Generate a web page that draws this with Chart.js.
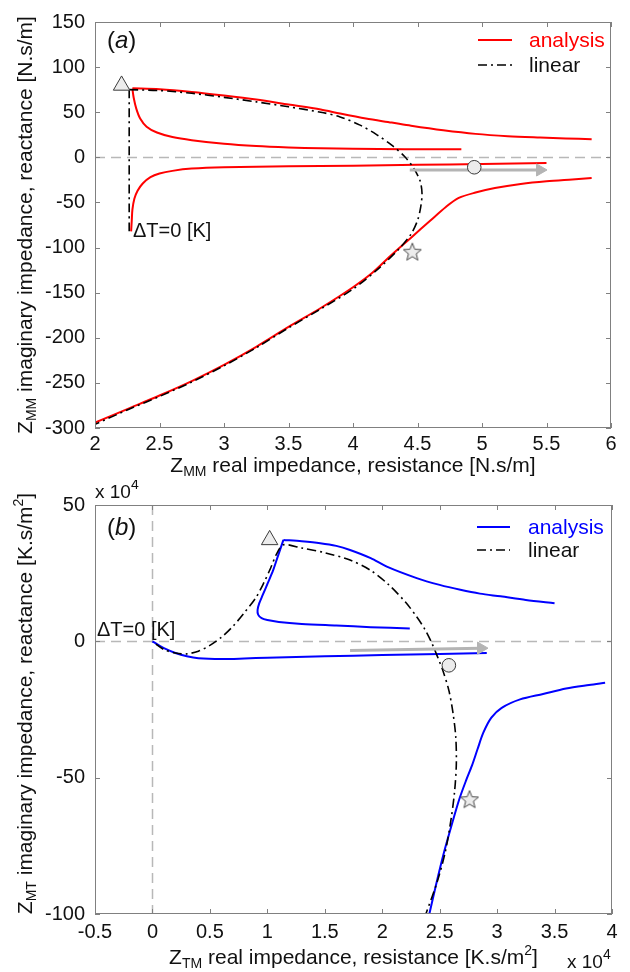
<!DOCTYPE html>
<html>
<head>
<meta charset="utf-8">
<script src="https://cdn.jsdelivr.net/npm/chart.js@4.4.1/dist/chart.umd.min.js"></script>
<style>
  html, body { margin: 0; padding: 0; background: #ffffff; }
  #wrap { position: relative; width: 630px; height: 972px; overflow: hidden; }
  #wrap canvas { position: absolute; left: 0; }
  #cA { top: 0; }
  #cB { top: 480px; }
</style>
</head>
<body>
<div id="wrap">
  <canvas id="cA" width="630" height="480"></canvas>
  <canvas id="cB" width="630" height="492"></canvas>
</div>
<script>
// ---------------- panel (a): Z_MM, resistance vs reactance [N.s/m] ----------------
const aTickX = ['2', '2.5', '3', '3.5', '4', '4.5', '5', '5.5', '6'];
const aTickY = ['-300', '-250', '-200', '-150', '-100', '-50', '0', '50', '100', '150'];

// analysis branches
const aUpperX = [2.29, 2.5, 2.75, 3.0, 3.25, 3.5, 3.75, 3.9, 4.1, 4.3, 4.45, 4.7, 4.95, 5.2, 5.45, 5.65, 5.85];
const aUpperY = [76.5, 75.5, 72.5, 68.5, 64, 58.5, 53, 48.5, 43, 38.5, 35, 30, 26, 23.5, 22, 21, 20];
const aInnerX = [2.29, 2.30, 2.32, 2.35, 2.40, 2.48, 2.6, 2.75, 3.0, 3.25, 3.5, 3.75, 4.0, 4.4, 4.84];
const aInnerY = [76, 66, 54, 43, 34, 27.5, 22.5, 19, 15, 12.5, 11, 10, 9.5, 9, 9];
const aNearX = [2.28, 2.285, 2.29, 2.305, 2.33, 2.37, 2.43, 2.5, 2.6, 2.75, 3.0, 3.5, 4.0, 4.5, 5.0, 5.5];
const aNearY = [-82, -70, -58, -46, -37, -29, -22, -18, -15, -12.5, -11, -10, -9.2, -8.3, -7.3, -6.2];
const aLowerX = [2.0, 2.25, 2.5, 2.75, 3.0, 3.25, 3.5, 3.75, 4.0, 4.15, 4.3, 4.45, 4.6, 4.72, 4.82, 4.95, 5.1, 5.3, 5.5, 5.7, 5.85];
const aLowerY = [-294, -279, -264, -248, -230, -210, -188, -167, -144, -128, -108, -89, -70, -55, -45, -39, -34, -29.5, -26.5, -24.5, -23];

// linear model
const aLinStemX = [2.265, 2.265];
const aLinStemY = [-82, 75];
const aLinArcX = [2.265, 2.5, 2.75, 3.0, 3.25, 3.5, 3.75, 3.9, 4.05, 4.18, 4.3, 4.4, 4.47, 4.52, 4.535, 4.525, 4.5, 4.45, 4.36, 4.2, 4.0, 3.75, 3.5, 3.25, 3.0, 2.75, 2.5, 2.25, 2.0];
const aLinArcY = [75, 74, 71, 66.5, 61.5, 56, 50, 44.8, 36, 25.5, 13.5, 1, -12, -26, -40, -55, -70, -85, -101, -123, -146, -168, -189, -211, -231, -249, -265, -280, -296];

// markers: triangle, circle, star
const aMarkX = [2.206, 4.94, 4.46];
const aMarkY = [79.7, -11, -104.6];
// sweep arrow (start, head)
const aArrowX = [4.44, 5.45];
const aArrowY = [-14, -14];

// ---------------- panel (b): Z_TM / Z_MT [K.s/m^2], values in units of 10^4 ----------------
const bTickX = ['-0.5', '0', '0.5', '1', '1.5', '2', '2.5', '3', '3.5', '4'];
const bTickY = ['-100', '-50', '0', '50'];

const bLowX = [0, 0.05, 0.1, 0.2, 0.3, 0.4, 0.6, 0.8, 1.0, 1.5, 2.0, 2.5, 2.91];
const bLowY = [0, -1.3, -2.5, -4.3, -5.5, -6.2, -6.5, -6.3, -6.0, -5.5, -5.0, -4.6, -4.3];
const bUpperX = [1.14, 1.3, 1.46, 1.6, 1.72, 1.9, 2.04, 2.3, 2.5, 2.68, 2.85, 3.03, 3.25, 3.5];
const bUpperY = [37.2, 36.7, 36, 35, 33.5, 30.5, 27.4, 23.2, 20.7, 18.9, 17.5, 16.5, 15.2, 14];
const bInnerX = [1.14, 1.09, 1.05, 1.0, 0.96, 0.93, 0.915, 0.92, 0.95, 1.0, 1.1, 1.3, 1.6, 1.9, 2.24];
const bInnerY = [37.2, 31, 26, 21, 17, 14, 11.5, 9.8, 8.5, 7.8, 7.1, 6.4, 5.8, 5.2, 4.7];
const bRightX = [2.41, 2.47, 2.53, 2.6, 2.67, 2.73, 2.78, 2.83, 2.88, 2.95, 3.04, 3.2, 3.4, 3.6, 3.8, 3.94];
const bRightY = [-100, -89, -78.6, -68, -58, -51, -45.7, -39.5, -33.5, -28, -24.4, -21.3, -19.3, -17.3, -16, -15.2];

const bLinX = [0.03, 0.1, 0.2, 0.3, 0.4, 0.5, 0.6, 0.7, 0.8, 0.9, 0.97, 1.03, 1.08, 1.14, 1.3, 1.5, 1.72, 1.9, 2.05, 2.2, 2.3, 2.37, 2.43, 2.48, 2.53, 2.58, 2.615, 2.64, 2.645, 2.63, 2.6, 2.55, 2.48, 2.38];
const bLinY = [-1, -3, -4.3, -4.6, -3.6, -1.5, 1.5, 5.5, 10.5, 16, 21.5, 27, 32, 35.4, 34.2, 32.5, 29.8, 26, 21, 14.5, 9, 4.5, -0.5, -5.5, -11, -18, -26, -35, -45, -55, -65, -77, -88, -100];

const bMarkX = [1.02, 2.58, 2.76];
const bMarkY = [37.2, -8.8, -57.9];
const bArrowX = [1.72, 2.86];
const bArrowY = [-3.4, -2.5];

// ---------------- drawing helpers ----------------
const FONT = "'Liberation Sans', Arial, Helvetica, sans-serif";
const RED = '#ff0000';
const BLUE = '#0000ff';
const DASHDOT = [9, 4, 2, 4];
const MARK_FILL = '#ececec';
const MARK_EDGE = '#3a3a3a';
const ARROW = '#b4b4b4';

function pts(xs, ys) { return xs.map((x, i) => ({ x: x, y: ys[i] })); }

function makeStar() {
  const c = document.createElement('canvas');
  c.width = 22; c.height = 22;
  const g = c.getContext('2d');
  g.beginPath();
  for (let i = 0; i < 10; i++) {
    const r = i % 2 ? 4.1 : 9.4;
    const a = -Math.PI / 2 + i * Math.PI / 5;
    g.lineTo(11 + r * Math.cos(a), 11.8 + r * Math.sin(a));
  }
  g.closePath();
  g.fillStyle = MARK_FILL; g.fill();
  g.strokeStyle = '#4a4a4a'; g.lineWidth = 1; g.stroke();
  return c;
}
const STAR = makeStar();

function lineSet(xs, ys, color, width, dash) {
  return {
    data: pts(xs, ys), showLine: true, borderColor: color, backgroundColor: color,
    borderWidth: width, borderDash: dash || [], pointRadius: 0, pointHoverRadius: 0,
    tension: 0.3, fill: false
  };
}

function markerSets(xs, ys) {
  const styles = ['triangle', 'circle', STAR];
  const radii = [9.5, 6.8, 11];
  return xs.map((x, i) => ({
    data: [{ x: x, y: ys[i] }], showLine: false, pointStyle: styles[i],
    pointRadius: radii[i], pointHoverRadius: radii[i],
    pointBackgroundColor: MARK_FILL, pointBorderColor: MARK_EDGE, pointBorderWidth: 1
  }));
}

function arrowSet(xs, ys) {
  return {
    data: pts(xs, ys), showLine: true, borderColor: ARROW, borderWidth: 3,
    pointStyle: 'triangle', pointRotation: 90,
    pointRadius: [0, 7], pointHoverRadius: [0, 7],
    pointBackgroundColor: ARROW, pointBorderColor: ARROW, pointBorderWidth: 1, tension: 0
  };
}

function richWidth(ctx, parts) {
  let w = 0;
  for (const p of parts) {
    ctx.font = (p.italic ? 'italic ' : '') + p.size + 'px ' + FONT;
    w += ctx.measureText(p.t).width;
  }
  return w;
}

function drawRich(ctx, parts, x, y, align) {
  const w = richWidth(ctx, parts);
  let cx = align === 'center' ? x - w / 2 : (align === 'right' ? x - w : x);
  ctx.textAlign = 'left';
  ctx.textBaseline = 'alphabetic';
  for (const p of parts) {
    ctx.font = (p.italic ? 'italic ' : '') + p.size + 'px ' + FONT;
    ctx.fillStyle = p.color || '#111111';
    ctx.fillText(p.t, cx, y + (p.dy || 0));
    cx += ctx.measureText(p.t).width;
  }
}

function decorPlugin(d) {
  return {
    id: 'panelDecor',
    beforeDatasetsDraw(chart) {
      const { ctx, chartArea: a, scales: { x, y } } = chart;
      ctx.save();
      ctx.beginPath(); ctx.rect(a.left, a.top, a.right - a.left, a.bottom - a.top); ctx.clip();
      ctx.strokeStyle = '#b8b8b8'; ctx.lineWidth = 1.5; ctx.setLineDash([10, 6]);
      const y0 = Math.round(y.getPixelForValue(0)) + 0.5;
      ctx.beginPath(); ctx.moveTo(a.left, y0); ctx.lineTo(a.right, y0); ctx.stroke();
      if (d.vZero) {
        const x0 = Math.round(x.getPixelForValue(0)) + 0.5;
        ctx.beginPath(); ctx.moveTo(x0, a.top); ctx.lineTo(x0, a.bottom); ctx.stroke();
      }
      ctx.restore();
    },
    afterDatasetsDraw(chart) {
      const { ctx, chartArea: a, scales: { x, y } } = chart;
      ctx.save();
      ctx.strokeStyle = '#808080'; ctx.lineWidth = 1; ctx.setLineDash([]);
      ctx.strokeRect(a.left + 0.5, a.top + 0.5, a.right - a.left - 1, a.bottom - a.top - 1);
      const L = 5;
      ctx.beginPath();
      x.ticks.forEach(t => {
        const px = Math.round(x.getPixelForValue(t.value)) + 0.5;
        ctx.moveTo(px, a.bottom); ctx.lineTo(px, a.bottom - L);
        ctx.moveTo(px, a.top); ctx.lineTo(px, a.top + L);
      });
      y.ticks.forEach(t => {
        const py = Math.round(y.getPixelForValue(t.value)) + 0.5;
        ctx.moveTo(a.left, py); ctx.lineTo(a.left + L, py);
        ctx.moveTo(a.right, py); ctx.lineTo(a.right - L, py);
      });
      ctx.stroke();
      ctx.restore();
    },
    afterDraw(chart) {
      const { ctx, chartArea: a } = chart;
      ctx.save();
      // axis titles
      drawRich(ctx, d.xTitle, (a.left + a.right) / 2, d.xTitleBase, 'center');
      ctx.save();
      ctx.translate(d.yTitleBase, (a.top + a.bottom) / 2 + d.yTitleShift);
      ctx.rotate(-Math.PI / 2);
      drawRich(ctx, d.yTitle, 0, 0, 'center');
      ctx.restore();
      // panel letter and annotation
      drawRich(ctx, d.letter, d.letterPos[0], d.letterPos[1], 'left');
      drawRich(ctx, [{ t: '\u0394T=0 [K]', size: 20 }], d.dtPos[0], d.dtPos[1], 'left');
      // exponent notes
      (d.exps || []).forEach(e => drawRich(ctx, [{ t: 'x 10', size: 19 }, { t: '4', size: 14, dy: -9 }], e[0], e[1], 'left'));
      // legend
      const lg = d.legend;
      ctx.lineWidth = 2; ctx.strokeStyle = d.color; ctx.setLineDash([]);
      ctx.beginPath(); ctx.moveTo(lg.x0, lg.y0); ctx.lineTo(lg.x1, lg.y0); ctx.stroke();
      ctx.lineWidth = 1.6; ctx.strokeStyle = '#000000'; ctx.setLineDash(DASHDOT);
      ctx.beginPath(); ctx.moveTo(lg.x0, lg.y1); ctx.lineTo(lg.x1, lg.y1); ctx.stroke();
      ctx.setLineDash([]);
      drawRich(ctx, [{ t: 'analysis', size: 21, color: d.color }], lg.tx, lg.y0 + 7, 'left');
      drawRich(ctx, [{ t: 'linear', size: 21, color: '#111111' }], lg.tx, lg.y1 + 7, 'left');
      ctx.restore();
    }
  };
}

function makeChart(id, cfg) {
  const tickFont = { family: FONT, size: 20 };
  return new Chart(document.getElementById(id), {
    type: 'scatter',
    data: { datasets: cfg.datasets },
    options: {
      responsive: false, animation: false, devicePixelRatio: 1,
      layout: { padding: cfg.padding },
      events: [],
      plugins: { legend: { display: false }, tooltip: { enabled: false } },
      scales: {
        x: {
          type: 'linear', min: cfg.xMin, max: cfg.xMax,
          ticks: { stepSize: cfg.xStep, padding: cfg.xPad, font: tickFont, color: '#111111',
                   maxRotation: 0, autoSkip: false, callback: (v, i) => cfg.xLabels[i] },
          grid: { display: false, drawTicks: false }, border: { display: false },
          afterFit: s => { s.height = cfg.xH; }
        },
        y: {
          type: 'linear', min: cfg.yMin, max: cfg.yMax,
          ticks: { stepSize: cfg.yStep, padding: 10, font: tickFont, color: '#111111',
                   autoSkip: false, callback: (v, i) => cfg.yLabels[i] },
          grid: { display: false, drawTicks: false }, border: { display: false },
          afterFit: s => { s.width = 95; }
        }
      }
    },
    plugins: [decorPlugin(cfg.decor)]
  });
}

// ---------------- panel (a) ----------------
makeChart('cA', {
  padding: { left: 0, top: 19, right: 19, bottom: 0 },
  xMin: 2, xMax: 6, xStep: 0.5, xLabels: aTickX, xH: 52, xPad: 4,
  yMin: -300, yMax: 150, yStep: 50, yLabels: aTickY,
  datasets: [
    ...markerSets(aMarkX, aMarkY),
    arrowSet(aArrowX, aArrowY),
    lineSet(aLinStemX, aLinStemY, '#000000', 1.6, DASHDOT),
    lineSet(aLinArcX, aLinArcY, '#000000', 1.6, DASHDOT),
    lineSet(aUpperX, aUpperY, RED, 2),
    lineSet(aInnerX, aInnerY, RED, 2),
    lineSet(aNearX, aNearY, RED, 2),
    lineSet(aLowerX, aLowerY, RED, 2)
  ],
  decor: {
    color: RED, vZero: false,
    xTitle: [{ t: 'Z', size: 21 }, { t: 'MM', size: 14, dy: 4 }, { t: ' real impedance, resistance [N.s/m]', size: 21 }],
    xTitleBase: 472,
    yTitle: [{ t: 'Z', size: 21 }, { t: 'MM', size: 14, dy: 4 }, { t: ' imaginary impedance, reactance [N.s/m]', size: 21 }],
    yTitleBase: 32, yTitleShift: 0,
    letter: [{ t: '(', size: 24 }, { t: 'a', size: 24, italic: true }, { t: ')', size: 24 }],
    letterPos: [107, 48],
    dtPos: [133, 237],
    legend: { x0: 478, x1: 512, y0: 40, y1: 65, tx: 529 }
  }
});

// ---------------- panel (b) ----------------
makeChart('cB', {
  padding: { left: 0, top: 25, right: 18, bottom: 0 },
  xMin: -0.5, xMax: 4, xStep: 0.5, xLabels: bTickX, xH: 58, xPad: 6,
  yMin: -100, yMax: 50, yStep: 50, yLabels: bTickY,
  datasets: [
    ...markerSets(bMarkX, bMarkY),
    arrowSet(bArrowX, bArrowY),
    lineSet(bLinX, bLinY, '#000000', 1.6, DASHDOT),
    lineSet(bLowX, bLowY, BLUE, 2),
    lineSet(bUpperX, bUpperY, BLUE, 2),
    lineSet(bInnerX, bInnerY, BLUE, 2),
    lineSet(bRightX, bRightY, BLUE, 2)
  ],
  decor: {
    color: BLUE, vZero: true,
    xTitle: [{ t: 'Z', size: 21 }, { t: 'TM', size: 14, dy: 4 }, { t: ' real impedance, resistance [K.s/m', size: 21 }, { t: '2', size: 14, dy: -9 }, { t: ']', size: 21 }],
    xTitleBase: 484,
    yTitle: [{ t: 'Z', size: 21 }, { t: 'MT', size: 14, dy: 4 }, { t: ' imaginary impedance, reactance [K.s/m', size: 21 }, { t: '2', size: 14, dy: -9 }, { t: ']', size: 21 }],
    yTitleBase: 32, yTitleShift: -6,
    letter: [{ t: '(', size: 24 }, { t: 'b', size: 24, italic: true }, { t: ')', size: 24 }],
    letterPos: [107, 55],
    dtPos: [97, 156],
    exps: [[95, 18], [567, 488]],
    legend: { x0: 477, x1: 510, y0: 47, y1: 70, tx: 528 }
  }
});
</script>
</body>
</html>
